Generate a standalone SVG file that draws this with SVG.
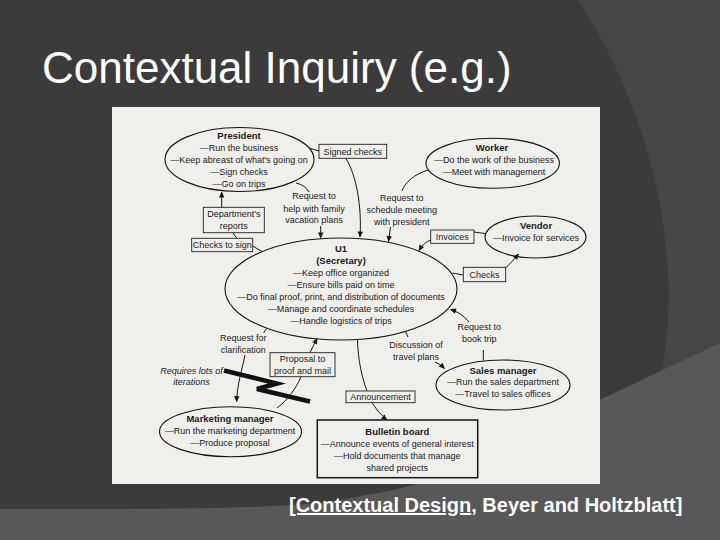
<svg xmlns="http://www.w3.org/2000/svg" width="720" height="540" viewBox="0 0 720 540">
<defs>
<marker id="ah" viewBox="0 0 10 10" refX="9" refY="5" markerWidth="7" markerHeight="6" markerUnits="userSpaceOnUse" orient="auto">
<path d="M0,0.5 L10,5 L0,9.5 Z" fill="#141414"/>
</marker>
<style>
.t{font-family:"Liberation Sans",Arial,sans-serif;font-size:9px;fill:#1b1b1b;text-anchor:middle}
.b{font-weight:bold;font-size:9.5px}
.i{font-style:italic}
.n{fill:none;stroke:#151515;stroke-width:1.1}
.bx{fill:none;stroke:#222;stroke-width:0.9}
.c{fill:none;stroke:#151515;stroke-width:1}
.a{marker-end:url(#ah)}
</style>
</defs>
<rect width="720" height="540" fill="#3b3b3b"/>
<path d="M578,0 L720,0 L720,344 L662,372 C684,250 650,110 578,0 Z" fill="#464646"/>
<path d="M0,509 C150,509 290,510 345,499 C385,492 410,487 430,480 L720,343 L720,540 L0,540 Z" fill="#585858"/>
<text x="42" y="83" font-family="Liberation Sans, Arial, sans-serif" font-size="44" fill="#ffffff">Contextual Inquiry (e.g.)</text>
<rect x="112" y="107" width="488" height="377" fill="#efefec"/>

<g id="connectors">
<path class="c" d="M309,148 L319,151"/>
<path class="c a" d="M346,158.5 C356,175 362,205 360,237"/>
<path class="c a" d="M221.7,207.3 L221.7,192"/>
<path class="c" d="M237,238.3 Q234,235 233,232.7"/>
<path class="c" d="M252.7,246 L262,251.5"/>
<path class="c" d="M296,183 Q305,185 309,192"/>
<path class="c a" d="M320.7,226 L320.7,238"/>
<path class="c" d="M428,170 C415,174 405,182 402,191"/>
<path class="c a" d="M390.5,227 L388.5,241.5"/>
<path class="c" d="M485,233.5 L474,232"/>
<path class="c a" d="M431,240 Q424,242 419,250.5"/>
<path class="c" d="M452.5,273 L463.3,275"/>
<path class="c a" d="M505.7,268 Q512,262 518.5,254"/>
<path class="c" d="M483.3,360.5 L483.3,350"/>
<path class="c a" d="M469,322 Q462,313 450.5,309.5"/>
<path class="c" d="M405.5,331.5 L408,337"/>
<path class="c a" d="M435,362 Q440,364 444.5,368.5"/>
<path class="c" d="M357.5,340 C358,360 362,378 367,391"/>
<path class="c a" d="M372,402.7 Q378,413 387,420"/>
<path class="c" d="M277,408 C288,400 296,388 301,377"/>
<path class="c a" d="M310,352.7 L317,338.5"/>
<path class="c" d="M266.5,328.5 L263.5,333"/>
<path class="c a" d="M245,355 C242,370 237,385 236.7,401.5"/>
<polyline points="224,370.5 277,383.5 257,389 310,401.5" fill="none" stroke="#111" stroke-width="4.5" stroke-linejoin="miter"/>
</g>

<g id="president">
<ellipse class="n" cx="239.5" cy="159.5" rx="74.5" ry="32"/>
<text class="t b" x="239" y="139">President</text>
<text class="t" x="239" y="151">—Run the business</text>
<text class="t" x="239" y="163">—Keep abreast of what's going on</text>
<text class="t" x="239" y="175">—Sign checks</text>
<text class="t" x="239" y="187">—Go on trips</text>
</g>

<g id="worker">
<ellipse class="n" cx="492.7" cy="163.3" rx="66.7" ry="25"/>
<text class="t b" x="492" y="151">Worker</text>
<text class="t" x="494" y="163">—Do the work of the business</text>
<text class="t" x="494" y="175">—Meet with management</text>
</g>

<g id="vendor">
<ellipse class="n" cx="535.5" cy="237" rx="50.5" ry="21"/>
<text class="t b" x="536" y="229">Vendor</text>
<text class="t" x="536" y="241">—Invoice for services</text>
</g>

<g id="u1">
<ellipse class="n" cx="341" cy="289" rx="116" ry="51"/>
<text class="t b" x="341" y="252">U1</text>
<text class="t b" x="341" y="264">(Secretary)</text>
<text class="t" x="341" y="276">—Keep office organized</text>
<text class="t" x="341" y="288">—Ensure bills paid on time</text>
<text class="t" x="341" y="300">—Do final proof, print, and distribution of documents</text>
<text class="t" x="341" y="312">—Manage and coordinate schedules</text>
<text class="t" x="341" y="324">—Handle logistics of trips</text>
</g>

<g id="sales-manager">
<ellipse class="n" cx="503" cy="385" rx="67" ry="25"/>
<text class="t b" x="503" y="373.5">Sales manager</text>
<text class="t" x="503" y="385">—Run the sales department</text>
<text class="t" x="503" y="397">—Travel to sales offices</text>
</g>

<g id="marketing-manager">
<ellipse class="n" cx="230.5" cy="431.7" rx="71" ry="25"/>
<text class="t b" x="230" y="422">Marketing manager</text>
<text class="t" x="230" y="433.5">—Run the marketing department</text>
<text class="t" x="230" y="446">—Produce proposal</text>
</g>

<g id="bulletin-board">
<rect x="317.3" y="420" width="160.4" height="57.7" fill="none" stroke="#151515" stroke-width="1.5"/>
<text class="t b" x="397.3" y="435">Bulletin board</text>
<text class="t" x="397.3" y="447">—Announce events of general interest</text>
<text class="t" x="397.3" y="459">—Hold documents that manage</text>
<text class="t" x="397.3" y="471">shared projects</text>
</g>

<g id="lbl-signed-checks">
<rect class="bx" x="319" y="144.3" width="67.7" height="14"/>
<text class="t" x="352.8" y="154.8">Signed checks</text>
</g>
<g id="lbl-departments-reports">
<rect class="bx" x="203.3" y="207.3" width="61" height="25.4"/>
<text class="t" x="233.8" y="217">Department's</text>
<text class="t" x="233.8" y="228.5">reports</text>
</g>
<g id="lbl-checks-to-sign">
<rect class="bx" x="191.7" y="238.3" width="61" height="13.4"/>
<text class="t" x="222.2" y="248.3">Checks to sign</text>
</g>
<g id="lbl-invoices">
<rect class="bx" x="430.7" y="230" width="43.3" height="13.3"/>
<text class="t" x="452.3" y="240">Invoices</text>
</g>
<g id="lbl-checks">
<rect class="bx" x="463.3" y="267.3" width="42.4" height="14.4"/>
<text class="t" x="484.5" y="278">Checks</text>
</g>
<g id="lbl-proposal">
<rect class="bx" x="270" y="352.7" width="65" height="24"/>
<text class="t" x="302.5" y="362">Proposal to</text>
<text class="t" x="302.5" y="374">proof and mail</text>
</g>
<g id="lbl-announcement">
<rect class="bx" x="346" y="391" width="69" height="11.7"/>
<text class="t" x="380.5" y="400.3">Announcement</text>
</g>

<g id="free-labels">
<text class="t" x="314" y="199">Request to</text>
<text class="t" x="314" y="211.5">help with family</text>
<text class="t" x="314" y="223">vacation plans</text>
<text class="t" x="401.7" y="200.5">Request to</text>
<text class="t" x="401.7" y="213">schedule meeting</text>
<text class="t" x="401.7" y="224.5">with president</text>
<text class="t" x="243.3" y="340.5">Request for</text>
<text class="t" x="243.3" y="352.5">clarification</text>
<text class="t" x="416" y="347.5">Discussion of</text>
<text class="t" x="416" y="359.5">travel plans</text>
<text class="t" x="479.3" y="330">Request to</text>
<text class="t" x="479.3" y="341.5">book trip</text>
<text class="t i" x="191.5" y="373.5">Requires lots of</text>
<text class="t i" x="191.5" y="385">iterations</text>
</g>

<text x="289" y="512" font-family="Liberation Sans, Arial, sans-serif" font-size="20" font-weight="bold" fill="#ffffff"><tspan text-decoration="underline">[Contextual Design</tspan>, Beyer and Holtzblatt]</text>
</svg>
